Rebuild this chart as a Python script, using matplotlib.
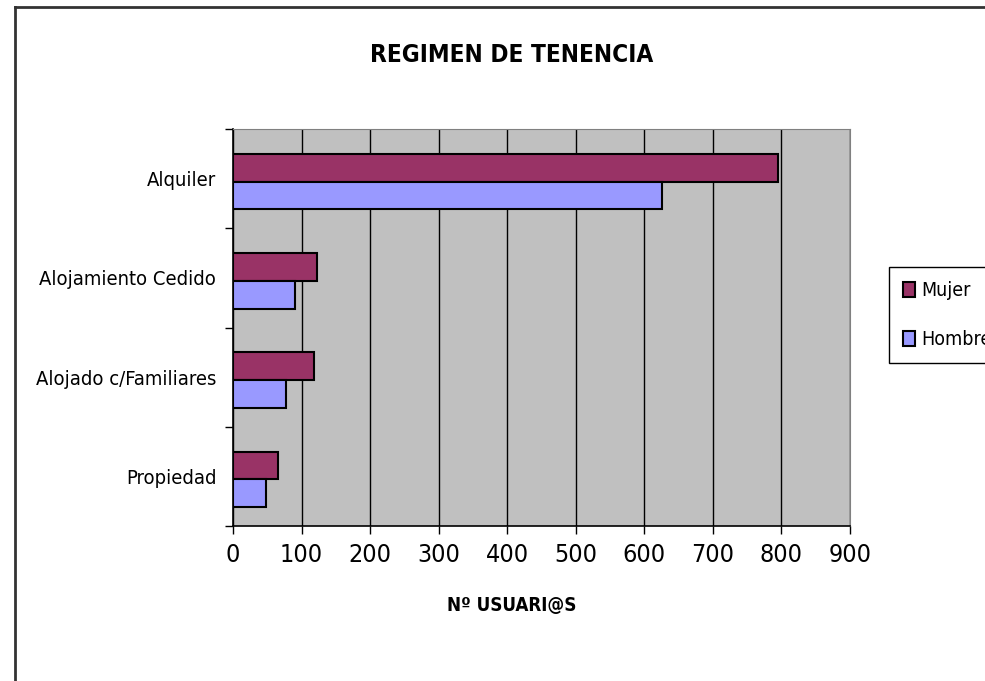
import numpy as np
import matplotlib
matplotlib.use("Agg")
import matplotlib.pyplot as plt
from matplotlib.lines import Line2D

# datos
categorias = ["Alquiler", "Alojamiento Cedido", "Alojado c/Familiares", "Propiedad"]
mujer = [795, 123, 118, 66]
hombre = [626, 90, 78, 48]
ticks_x = [0, 100, 200, 300, 400, 500, 600, 700, 800, 900]

# fuente estrecha (parecida a Arial Narrow)
plt.rcParams["font.family"] = ["DejaVu Sans"]
plt.rcParams["font.stretch"] = "condensed"

W, H = 985, 681
fig = plt.figure(figsize=(W / 100, H / 100), dpi=100)
ax = fig.add_axes([233 / W, 1 - 526 / H, (850 - 233) / W, (526 - 129) / H])

pos = np.arange(len(categorias))
alto = 0.28
ax.barh(pos - alto / 2 + 0.03, mujer, height=alto, color="#993366",
        edgecolor="black", linewidth=1.5, label="Mujer", zorder=3)
ax.barh(pos + alto / 2 + 0.03, hombre, height=alto, color="#9999FF",
        edgecolor="black", linewidth=1.5, label="Hombre", zorder=3)

ax.set_facecolor("#C0C0C0")
ax.set_xlim(0, 900)
ax.set_ylim(len(categorias) - 0.5, -0.5)
ax.set_xticks(ticks_x)
ax.set_xticklabels([str(t) for t in ticks_x], fontsize=18)
ax.xaxis.grid(True, color="black", linewidth=1, zorder=1)
ax.set_axisbelow(True)

# ticks de categoria en los limites, etiquetas en el centro
ax.set_yticks(np.arange(-0.5, len(categorias), 1.0))
ax.set_yticklabels([])
ax.set_yticks(pos, minor=True)
ax.set_yticklabels(categorias, minor=True, fontsize=14.5)
ax.tick_params(axis="y", which="minor", length=0, pad=12)
ax.tick_params(axis="y", which="major", length=6, width=1)
ax.tick_params(axis="x", length=6, width=1, pad=6)

for lado in ["top", "right"]:
    ax.spines[lado].set_color("#808080")
for lado in ["left", "bottom"]:
    ax.spines[lado].set_color("black")
    ax.spines[lado].set_linewidth(1.2)

fig.text(512 / W, 1 - 606 / H, "Nº USUARI@S", fontsize=13.5,
         fontweight="bold", ha="center", va="center")
fig.text(512 / W, 1 - 55 / H, "REGIMEN DE TENENCIA", fontsize=17.5,
         fontweight="bold", ha="center", va="center")

leg = ax.legend(loc="upper left", bbox_to_anchor=(889 / W, 1 - 267 / H),
                bbox_transform=fig.transFigure, fontsize=14, frameon=True,
                fancybox=False, edgecolor="black", framealpha=1,
                handlelength=0.62, handleheight=0.8, handletextpad=0.3,
                labelspacing=1.55, borderpad=0.72, borderaxespad=0)
leg.get_frame().set_linewidth(1)

# marco del grafico
fig.add_artist(Line2D([15 / W, 15 / W], [0, 1 - 7 / H], color="#333333", linewidth=2))
fig.add_artist(Line2D([15 / W, 1], [1 - 7 / H, 1 - 7 / H], color="#333333", linewidth=2))

fig.savefig("out.png", dpi=100)
